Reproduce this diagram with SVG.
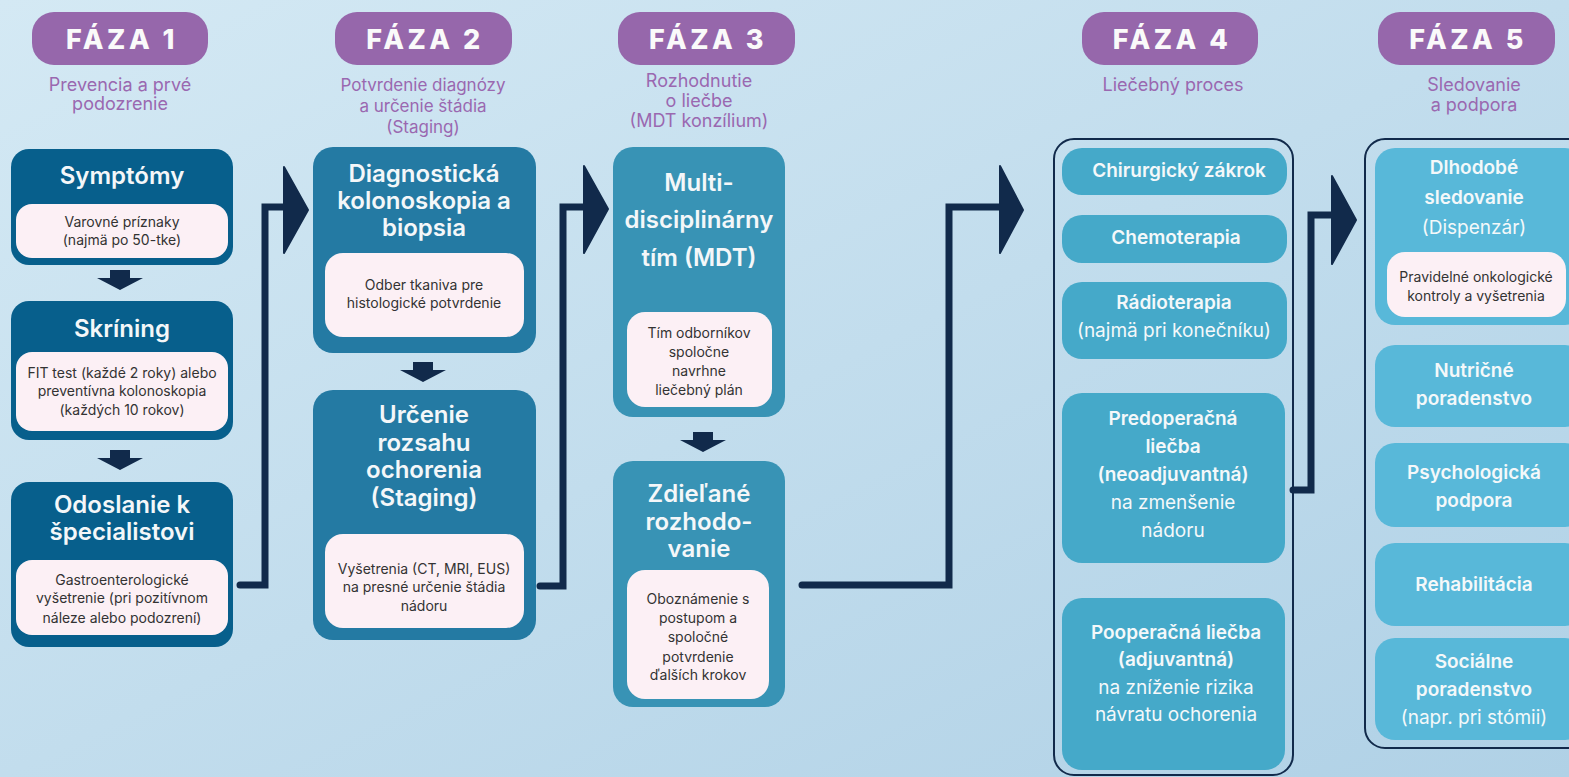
<svg xmlns="http://www.w3.org/2000/svg" width="1569" height="777" viewBox="0 0 1569 777">
<defs>
<linearGradient id="bg" x1="0" y1="0" x2="1" y2="1">
<stop offset="0" stop-color="#d4e9f4"/>
<stop offset="1" stop-color="#b0d1e6"/>
</linearGradient>
<path id="down" d="M-10,0 h20 v8 h13 l-23,12 l-23,-12 h13 z" fill="#112a4b"/>
</defs>
<style>
.pill{fill:#9667ab}
.pt{font-family:Inter,"Liberation Sans",sans-serif;font-weight:800;font-size:27px;fill:#fafafa;text-anchor:middle;letter-spacing:3.5px}
.sub{font-family:Inter,"Liberation Sans",sans-serif;font-size:18px;fill:#9a68b0;text-anchor:middle}
.s2{font-size:17px}
.t{font-family:Inter,"Liberation Sans",sans-serif;font-weight:600;font-size:24px;fill:#f4f7f9;text-anchor:middle}
.pk{fill:#fcf0f5}
.pkt{font-family:Inter,"Liberation Sans",sans-serif;font-size:14px;fill:#333;text-anchor:middle}
.it{font-family:Inter,"Liberation Sans",sans-serif;font-weight:600;font-size:19px;fill:#f4f8fa;text-anchor:middle}
.ir{font-family:Inter,"Liberation Sans",sans-serif;font-weight:400;font-size:19px;fill:#f4f8fa;text-anchor:middle}
.c1{fill:#075f8c}.c2{fill:#247aa3}.c3{fill:#3893b5}.c4{fill:#45a9c9}.c5{fill:#58b8d9}
.cont{fill:none;stroke:#112a4b;stroke-width:2}
.con{fill:none;stroke:#112a4b;stroke-width:7;stroke-linecap:round;stroke-linejoin:miter}
.head{fill:#112a4b;stroke:#112a4b;stroke-width:2;stroke-linejoin:round}
</style>
<rect width="1569" height="777" fill="url(#bg)"/>

<g id="phase1">
<rect class="pill" x="32" y="12" width="176" height="53" rx="22"/>
<text class="pt" x="122" y="49">FÁZA 1</text>
<text class="sub" x="120" y="91">Prevencia a prvé</text>
<text class="sub" x="120" y="110">podozrenie</text>
</g>
<g id="phase2">
<rect class="pill" x="335" y="12" width="177" height="53" rx="22"/>
<text class="pt" x="425" y="49">FÁZA 2</text>
<text class="sub s2" x="423" y="91">Potvrdenie diagnózy</text>
<text class="sub s2" x="423" y="112">a určenie štádia</text>
<text class="sub s2" x="423" y="133">(Staging)</text>
</g>
<g id="phase3">
<rect class="pill" x="618" y="12" width="177" height="53" rx="22"/>
<text class="pt" x="708" y="49">FÁZA 3</text>
<text class="sub" x="699" y="87">Rozhodnutie</text>
<text class="sub" x="699" y="107">o liečbe</text>
<text class="sub" x="699" y="127">(MDT konzílium)</text>
</g>
<g id="phase4">
<rect class="pill" x="1082" y="12" width="176" height="53" rx="22"/>
<text class="pt" x="1172" y="49">FÁZA 4</text>
<text class="sub" x="1173" y="91">Liečebný proces</text>
</g>
<g id="phase5">
<rect class="pill" x="1378" y="12" width="177" height="53" rx="22"/>
<text class="pt" x="1468" y="49">FÁZA 5</text>
<text class="sub" x="1474" y="91">Sledovanie</text>
<text class="sub" x="1474" y="111">a podpora</text>
</g>

<g id="symptomy">
<rect class="c1" x="11" y="149" width="222" height="116" rx="18"/>
<text class="t" x="122" y="184">Symptómy</text>
<rect class="pk" x="16" y="204" width="212" height="54" rx="16"/>
<text class="pkt" x="122" y="227">Varovné príznaky</text>
<text class="pkt" x="122" y="245">(najmä po 50-tke)</text>
</g>
<g id="skrining">
<rect class="c1" x="11" y="301" width="222" height="139" rx="18"/>
<text class="t" x="122" y="337">Skríning</text>
<rect class="pk" x="16" y="352" width="212" height="79" rx="16"/>
<text class="pkt" x="122" y="378">FIT test (každé 2 roky) alebo</text>
<text class="pkt" x="122" y="396">preventívna kolonoskopia</text>
<text class="pkt" x="122" y="415">(každých 10 rokov)</text>
</g>
<g id="odoslanie">
<rect class="c1" x="11" y="482" width="222" height="165" rx="18"/>
<text class="t" x="122" y="513">Odoslanie k</text>
<text class="t" x="122" y="540">špecialistovi</text>
<rect class="pk" x="16" y="560" width="212" height="75" rx="16"/>
<text class="pkt" x="122" y="585">Gastroenterologické</text>
<text class="pkt" x="122" y="603">vyšetrenie (pri pozitívnom</text>
<text class="pkt" x="122" y="623">náleze alebo podozrení)</text>
</g>

<g id="diagnosticka">
<rect class="c2" x="313" y="147" width="223" height="206" rx="20"/>
<text class="t" x="424" y="182">Diagnostická</text>
<text class="t" x="424" y="209">kolonoskopia a</text>
<text class="t" x="424" y="236">biopsia</text>
<rect class="pk" x="325" y="253" width="199" height="84" rx="18"/>
<text class="pkt" x="424" y="290">Odber tkaniva pre</text>
<text class="pkt" x="424" y="308">histologické potvrdenie</text>
</g>
<g id="urcenie">
<rect class="c2" x="313" y="390" width="223" height="250" rx="20"/>
<text class="t" x="424" y="423">Určenie</text>
<text class="t" x="424" y="451">rozsahu</text>
<text class="t" x="424" y="478">ochorenia</text>
<text class="t" x="424" y="506">(Staging)</text>
<rect class="pk" x="325" y="534" width="199" height="94" rx="18"/>
<text class="pkt" x="424" y="574">Vyšetrenia (CT, MRI, EUS)</text>
<text class="pkt" x="424" y="592">na presné určenie štádia</text>
<text class="pkt" x="424" y="611">nádoru</text>
</g>

<g id="mdt">
<rect class="c3" x="613" y="147" width="172" height="270" rx="20"/>
<text class="t" x="699" y="191">Multi-</text>
<text class="t" x="699" y="228">disciplinárny</text>
<text class="t" x="699" y="266">tím (MDT)</text>
<rect class="pk" x="627" y="312" width="145" height="95" rx="18"/>
<text class="pkt" x="699" y="338">Tím odborníkov</text>
<text class="pkt" x="699" y="357">spoločne</text>
<text class="pkt" x="699" y="376">navrhne</text>
<text class="pkt" x="699" y="395">liečebný plán</text>
</g>
<g id="zdielane">
<rect class="c3" x="613" y="461" width="172" height="246" rx="20"/>
<text class="t" x="699" y="502">Zdieľané</text>
<text class="t" x="699" y="530">rozhodo-</text>
<text class="t" x="699" y="557">vanie</text>
<rect class="pk" x="627" y="570" width="142" height="129" rx="18"/>
<text class="pkt" x="698" y="604">Oboznámenie s</text>
<text class="pkt" x="698" y="623">postupom a</text>
<text class="pkt" x="698" y="642">spoločné</text>
<text class="pkt" x="698" y="662">potvrdenie</text>
<text class="pkt" x="698" y="680">ďalších krokov</text>
</g>

<g id="liecba">
<rect class="cont" x="1054" y="139" width="239" height="636" rx="20"/>
<g id="chirurgia">
<rect class="c4" x="1062" y="148" width="225" height="47" rx="20"/>
<text class="it" x="1179" y="177">Chirurgický zákrok</text>
</g>
<g id="chemo">
<rect class="c4" x="1062" y="215" width="225" height="48" rx="20"/>
<text class="it" x="1176" y="244">Chemoterapia</text>
</g>
<g id="radio">
<rect class="c4" x="1062" y="282" width="225" height="77" rx="20"/>
<text class="it" x="1174" y="309">Rádioterapia</text>
<text class="ir" x="1174" y="337">(najmä pri konečníku)</text>
</g>
<g id="predoperacna">
<rect class="c4" x="1062" y="393" width="223" height="170" rx="20"/>
<text class="it" x="1173" y="425">Predoperačná</text>
<text class="it" x="1173" y="453">liečba</text>
<text class="it" x="1173" y="481">(neoadjuvantná)</text>
<text class="ir" x="1173" y="509">na zmenšenie</text>
<text class="ir" x="1173" y="537">nádoru</text>
</g>
<g id="pooperacna">
<rect class="c4" x="1062" y="598" width="223" height="172" rx="20"/>
<text class="it" x="1176" y="639">Pooperačná liečba</text>
<text class="it" x="1176" y="666">(adjuvantná)</text>
<text class="ir" x="1176" y="694">na zníženie rizika</text>
<text class="ir" x="1176" y="721">návratu ochorenia</text>
</g>
</g>

<g id="sledovanie">
<rect class="cont" x="1365" y="139" width="230" height="609" rx="20"/>
<g id="dlhodobe">
<rect class="c5" x="1375" y="148" width="210" height="177" rx="20"/>
<text class="it" x="1474" y="174">Dlhodobé</text>
<text class="it" x="1474" y="204">sledovanie</text>
<text class="ir" x="1474" y="234">(Dispenzár)</text>
<rect class="pk" x="1387" y="252" width="179" height="65" rx="18"/>
<text class="pkt" x="1476" y="282">Pravidelné onkologické</text>
<text class="pkt" x="1476" y="301">kontroly a vyšetrenia</text>
</g>
<g id="nutricne">
<rect class="c5" x="1375" y="345" width="210" height="82" rx="20"/>
<text class="it" x="1474" y="377">Nutričné</text>
<text class="it" x="1474" y="405">poradenstvo</text>
</g>
<g id="psycho">
<rect class="c5" x="1375" y="443" width="210" height="84" rx="20"/>
<text class="it" x="1474" y="479">Psychologická</text>
<text class="it" x="1474" y="507">podpora</text>
</g>
<g id="rehab">
<rect class="c5" x="1375" y="543" width="210" height="83" rx="20"/>
<text class="it" x="1474" y="591">Rehabilitácia</text>
</g>
<g id="socialne">
<rect class="c5" x="1375" y="638" width="210" height="102" rx="20"/>
<text class="it" x="1474" y="668">Sociálne</text>
<text class="it" x="1474" y="696">poradenstvo</text>
<text class="ir" x="1474" y="724">(napr. pri stómii)</text>
</g>
</g>

<g id="connectors">
<use href="#down" x="120" y="270"/>
<use href="#down" x="120" y="450"/>
<use href="#down" x="423" y="362"/>
<use href="#down" x="703" y="432"/>
<path class="con" d="M240,585 H265 V207 H287"/>
<polygon class="head" points="284,167 308,210 284,253"/>
<path class="con" d="M540,586 H563 V207 H587"/>
<polygon class="head" points="584,166 608,209 584,253"/>
<path class="con" d="M802,585 H949 V207 H1003"/>
<polygon class="head" points="1000,166 1023,210 1000,253"/>
<path class="con" d="M1293,490 H1311 V215 H1335"/>
<polygon class="head" points="1332,176 1356,220 1332,264"/>
</g>
</svg>
